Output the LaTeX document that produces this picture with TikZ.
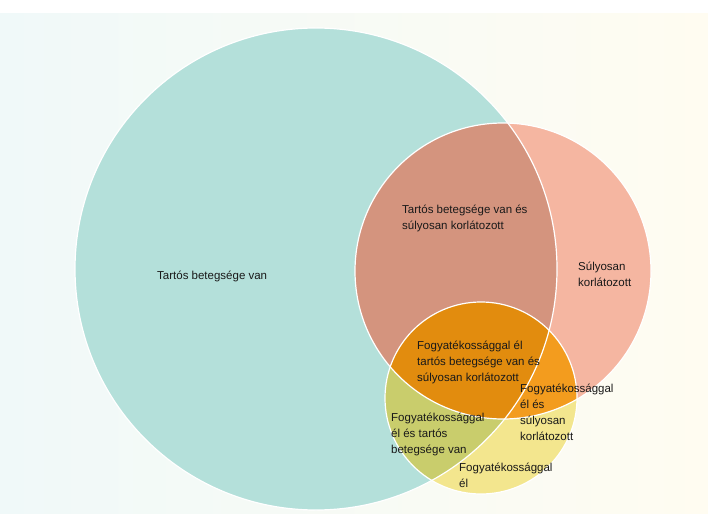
\documentclass[tikz,border=0pt]{standalone}
\usepackage{fontspec}
\setmainfont{Liberation Sans}
\usepackage{xcolor}
\definecolor{tartosc}{HTML}{B4E0DA}
\definecolor{sulyosc}{HTML}{F5B6A1}
\definecolor{fogyc}{HTML}{F3E68E}
\definecolor{tsc}{HTML}{D4947E}
\definecolor{tfc}{HTML}{C9CD6C}
\definecolor{sfc}{HTML}{F39C1E}
\definecolor{tsfc}{HTML}{E28C0E}
\definecolor{bgl}{HTML}{F0F9F9}
\definecolor{bgr}{HTML}{FFFCF1}

\begin{document}
\begin{tikzpicture}[x=1pt,y=-1pt,
  felirat/.style={inner sep=0pt,anchor=base west,align=left,text=black!90,
    font=\fontsize{11.5}{16}\selectfont}]
 \pgfmathsetmacro{\rT}{241}
 \pgfmathsetmacro{\rS}{148}
 \pgfmathsetmacro{\rF}{96}
  \useasboundingbox (0,0) rectangle (708,513);
  \shade[left color=bgl, right color=bgr] (0,14) rectangle (708,513);
  \coordinate (T) at (316,269);
  \coordinate (S) at (503,271);
  \coordinate (F) at (481,398);
  \path[fill=tartosc] (T) circle (\rT pt);
  \path[fill=sulyosc] (S) circle (\rS pt);
  \path[fill=fogyc] (F) circle (\rF pt);

\begin{scope}
  \clip (T) circle (\rT pt);
  \path[fill=tsc] (S) circle (\rS pt);
  \path[fill=tfc] (F) circle (\rF pt);
\end{scope}
\begin{scope}
  \clip (S) circle (\rS pt);
  \path[fill=sfc] (F) circle (\rF pt);
  \clip (T) circle (\rT pt);
  \path[fill=tsfc] (F) circle (\rF pt);
\end{scope}

  \draw[white,line width=1.2pt] (T) circle (\rT pt);
  \draw[white,line width=1.2pt] (S) circle (\rS pt);
  \draw[white,line width=1.2pt] (F) circle (\rF pt);

  % base = last line
  \node[felirat] (tartos) at (157,279) {Tartós betegsége van};
  \node[felirat] (tartoskorl) at (402,229) {Tartós betegsége van és\\súlyosan korlátozott};
  \node[felirat] (sulyos) at (578,286) {Súlyosan\\korlátozott};
  \node[felirat] (harom) at (417,381) {Fogyatékossággal él\\tartós betegsége van és\\súlyosan korlátozott};
  \node[felirat] (fogykorl) at (520,440) {Fogyatékossággal\\él és\\súlyosan\\korlátozott};
  \node[felirat] (fogytartos) at (391,453) {Fogyatékossággal\\él és tartós\\betegsége van};
  \node[felirat] (fogy) at (459,487) {Fogyatékossággal\\él};
\end{tikzpicture}
\end{document}
